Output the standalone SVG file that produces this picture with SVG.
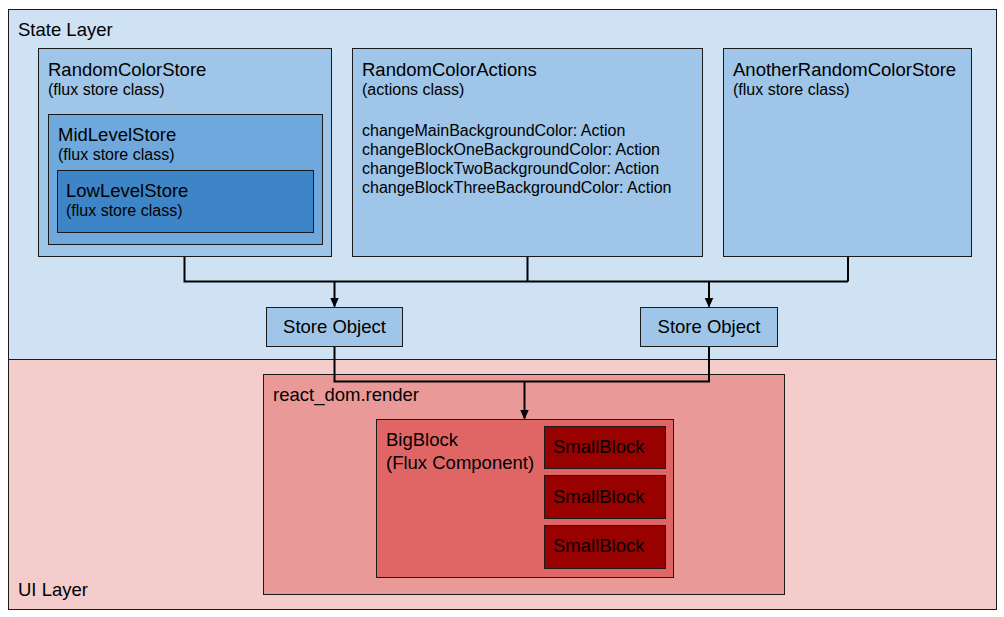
<svg xmlns="http://www.w3.org/2000/svg" width="1004" height="617" viewBox="0 0 1004 617">
<style>
text{font-family:"Liberation Sans",Arial,sans-serif;fill:#000}
.t{font-size:18.5px}
.s{font-size:16px}
rect{stroke:#1a1a1a;stroke-width:1}
.c{fill:none;stroke:#000;stroke-width:2}
</style>
<defs>
<marker id="ah" markerWidth="10" markerHeight="10" viewBox="0 0 10 10" refX="9" refY="5" orient="auto" markerUnits="userSpaceOnUse">
<path d="M0,0.5 L10,5 L0,9.5 Z" fill="#000"/>
</marker>
</defs>
<g id="state-layer">
<rect x="8.5" y="9.5" width="988" height="350" fill="#cfe2f3"/>
<text class="t" x="18" y="36">State Layer</text>
</g>
<g id="ui-layer">
<rect x="8.5" y="359.5" width="988" height="250" fill="#f4cccc"/>
<text class="t" x="18" y="596">UI Layer</text>
</g>
<g id="random-color-store">
<rect x="38.5" y="48.5" width="293" height="208" fill="#9fc5e8"/>
<text class="t" x="48" y="76">RandomColorStore</text>
<text class="s" x="48" y="95">(flux store class)</text>
</g>
<g id="mid-level-store">
<rect x="48.5" y="114.5" width="274" height="130" fill="#6fa8dc"/>
<text class="t" x="58" y="141">MidLevelStore</text>
<text class="s" x="58" y="160">(flux store class)</text>
</g>
<g id="low-level-store">
<rect x="57.5" y="170.5" width="256" height="62" fill="#3d85c6"/>
<text class="t" x="66" y="197">LowLevelStore</text>
<text class="s" x="66" y="216">(flux store class)</text>
</g>
<g id="random-color-actions">
<rect x="352.5" y="48.5" width="350" height="208" fill="#9fc5e8"/>
<text class="t" x="362" y="76">RandomColorActions</text>
<text class="s" x="362" y="95">(actions class)</text>
<text class="s" x="362" y="136">changeMainBackgroundColor: Action</text>
<text class="s" x="362" y="155">changeBlockOneBackgroundColor: Action</text>
<text class="s" x="362" y="174">changeBlockTwoBackgroundColor: Action</text>
<text class="s" x="362" y="193">changeBlockThreeBackgroundColor: Action</text>
</g>
<g id="another-random-color-store">
<rect x="723.5" y="48.5" width="248" height="208" fill="#9fc5e8"/>
<text class="t" x="733" y="76">AnotherRandomColorStore</text>
<text class="s" x="733" y="95">(flux store class)</text>
</g>
<g id="store-object-1">
<rect x="266.5" y="307.5" width="136" height="39" fill="#9fc5e8"/>
<text class="t" x="334.5" y="333" text-anchor="middle">Store Object</text>
</g>
<g id="store-object-2">
<rect x="640.5" y="307.5" width="137" height="39" fill="#9fc5e8"/>
<text class="t" x="709" y="333" text-anchor="middle">Store Object</text>
</g>
<g id="react-dom-render">
<rect x="263.5" y="374.5" width="521" height="220" fill="#ea9999"/>
<text class="t" x="273" y="401">react_dom.render</text>
</g>
<g id="big-block">
<rect x="376.5" y="419.5" width="297" height="158" fill="#e06666"/>
<text class="t" x="386" y="446">BigBlock</text>
<text class="t" x="386" y="469">(Flux Component)</text>
</g>
<g id="small-block-1">
<rect x="544.5" y="426.5" width="121" height="42" fill="#990000"/>
<text class="t" x="553" y="453">SmallBlock</text>
</g>
<g id="small-block-2">
<rect x="544.5" y="475.5" width="121" height="43" fill="#990000"/>
<text class="t" x="553" y="503">SmallBlock</text>
</g>
<g id="small-block-3">
<rect x="544.5" y="525.5" width="121" height="43" fill="#990000"/>
<text class="t" x="553" y="552">SmallBlock</text>
</g>
<g id="connectors">
<path class="c" d="M184.5,257 V281.5 H848 M527.5,257 V281.5 M848,257 V281.5"/>
<path class="c" d="M334.5,281.5 V306.5" marker-end="url(#ah)"/>
<path class="c" d="M709,281.5 V306.5" marker-end="url(#ah)"/>
<path class="c" d="M334.5,347 V381.5 H709 V347"/>
<path class="c" d="M524.5,381.5 V418.5" marker-end="url(#ah)"/>
</g>
</svg>
